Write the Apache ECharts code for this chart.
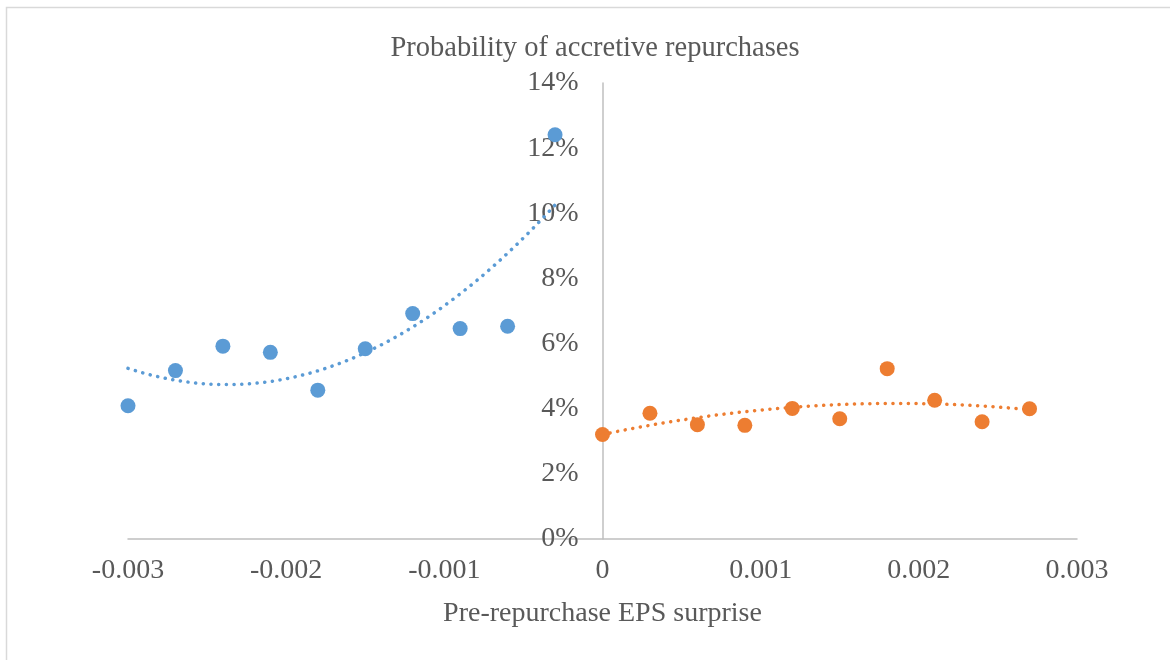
<!DOCTYPE html>
<html>
<head>
<meta charset="utf-8">
<script src="https://cdn.jsdelivr.net/npm/echarts@6/dist/echarts.min.js"></script>
<style>
  html, body { margin: 0; padding: 0; background: #ffffff; }
  #chart { width: 1170px; height: 660px; }
</style>
</head>
<body>
<div id="chart"></div>
<script>
// ---- Data ----
const titleText = 'Probability of accretive repurchases';
const xAxisName = 'Pre-repurchase EPS surprise';

const negX = [-0.0030, -0.0027, -0.0024, -0.0021, -0.0018, -0.0015, -0.0012, -0.0009, -0.0006, -0.0003];
const negY = [0.0409, 0.0517, 0.0592, 0.0573, 0.0457, 0.0584, 0.0692, 0.0646, 0.0653, 0.1241];

const posX = [0.0000, 0.0003, 0.0006, 0.0009, 0.0012, 0.0015, 0.0018, 0.0021, 0.0024, 0.0027];
const posY = [0.0321, 0.0386, 0.0351, 0.0349, 0.0401, 0.0369, 0.0523, 0.0426, 0.0360, 0.0400];

const xTicks = [-0.003, -0.002, -0.001, 0, 0.001, 0.002, 0.003];
const yTicks = [0, 0.02, 0.04, 0.06, 0.08, 0.10, 0.12, 0.14];

// ---- Least-squares quadratic trendline (like the spreadsheet's polynomial trendline) ----
function quadFit(xs, ys) {
  const n = xs.length;
  const mx = xs.reduce((a, b) => a + b, 0) / n;
  let S = [0, 0, 0, 0, 0], T = [0, 0, 0];
  for (let i = 0; i < n; i++) {
    const u = xs[i] - mx;
    let p = 1;
    for (let k = 0; k < 5; k++) { S[k] += p; if (k < 3) T[k] += p * ys[i]; p *= u; }
  }
  const A = [[S[0], S[1], S[2], T[0]], [S[1], S[2], S[3], T[1]], [S[2], S[3], S[4], T[2]]];
  for (let c = 0; c < 3; c++) {
    let piv = c;
    for (let r = c + 1; r < 3; r++) if (Math.abs(A[r][c]) > Math.abs(A[piv][c])) piv = r;
    [A[c], A[piv]] = [A[piv], A[c]];
    for (let r = 0; r < 3; r++) {
      if (r === c) continue;
      const f = A[r][c] / A[c][c];
      for (let k = c; k < 4; k++) A[r][k] -= f * A[c][k];
    }
  }
  const a = A[0][3] / A[0][0], b = A[1][3] / A[1][1], c2 = A[2][3] / A[2][2];
  const x0 = Math.min(...xs), x1 = Math.max(...xs);
  const pts = [];
  const steps = 120;
  for (let i = 0; i <= steps; i++) {
    const x = x0 + (x1 - x0) * i / steps;
    const u = x - mx;
    pts.push([x, a + b * u + c2 * u * u]);
  }
  return pts;
}

const zip = (xs, ys) => xs.map((x, i) => [x, ys[i]]);

const FONT = "'Liberation Serif', 'Times New Roman', serif";
const TXT = '#595959';
const BLUE = '#5B9BD5';
const ORANGE = '#ED7D31';

const GRID = { left: 128, right: 93, top: 83, bottom: 121 };
const CHART_W = 1170;
const xMin = xTicks[0], xMax = xTicks[xTicks.length - 1];
// place the value axis where x = 0 crosses (labels move with it)
const yAxisOffset = -((0 - xMin) / (xMax - xMin)) * (CHART_W - GRID.left - GRID.right);

const chart = echarts.init(document.getElementById('chart'), null, { renderer: 'canvas' });

const dotted = (color) => ({ color: color, width: 3.5, type: [0.1, 7.6], cap: 'round' });

chart.setOption({
  animation: false,
  backgroundColor: '#ffffff',
  title: {
    text: titleText,
    left: 590,
    top: 29,
    textAlign: 'center',
    textStyle: { fontFamily: FONT, fontSize: 28.5, fontWeight: 'normal', color: TXT }
  },
  graphic: [{
    type: 'rect',
    shape: { x: 6.5, y: 7.5, width: 1200, height: 700 },
    style: { fill: null, stroke: '#D9D9D9', lineWidth: 1.5 },
    silent: true
  }],
  grid: Object.assign({ outerBoundsMode: 'none' }, GRID),
  xAxis: {
    type: 'value',
    min: xMin,
    max: xMax,
    interval: 0.001,
    name: xAxisName,
    nameLocation: 'middle',
    nameGap: 61,
    nameTextStyle: { fontFamily: FONT, fontSize: 28, color: TXT },
    axisLine: { show: true, onZero: true, lineStyle: { color: '#BFBFBF', width: 1.5 } },
    axisTick: { show: false },
    splitLine: { show: false },
    axisLabel: {
      margin: 18,
      fontFamily: FONT, fontSize: 28, color: TXT,
      formatter: (v) => String(Number(v.toFixed(3)))
    }
  },
  yAxis: {
    type: 'value',
    position: 'left',
    offset: yAxisOffset,
    min: yTicks[0],
    max: yTicks[yTicks.length - 1],
    interval: 0.02,
    axisLine: { show: true, onZero: false, lineStyle: { color: '#BFBFBF', width: 1.5 } },
    axisTick: { show: false },
    splitLine: { show: false },
    axisLabel: {
      margin: 24,
      fontFamily: FONT, fontSize: 28, color: TXT,
      formatter: (v) => Math.round(v * 100) + '%'
    }
  },
  series: [
    {
      name: 'Negative surprise',
      type: 'scatter',
      data: zip(negX, negY),
      symbol: 'circle',
      symbolSize: 15,
      itemStyle: { color: BLUE, opacity: 1 },
      z: 2
    },
    {
      name: 'Positive surprise',
      type: 'scatter',
      data: zip(posX, posY),
      symbol: 'circle',
      symbolSize: 15,
      itemStyle: { color: ORANGE, opacity: 1 },
      z: 2
    },
    {
      name: 'Trend negative',
      type: 'line',
      data: quadFit(negX, negY),
      showSymbol: false,
      symbol: 'none',
      lineStyle: dotted(BLUE),
      z: 3,
      silent: true
    },
    {
      name: 'Trend positive',
      type: 'line',
      data: quadFit(posX, posY),
      showSymbol: false,
      symbol: 'none',
      lineStyle: dotted(ORANGE),
      z: 3,
      silent: true
    }
  ]
});
</script>
</body>
</html>
